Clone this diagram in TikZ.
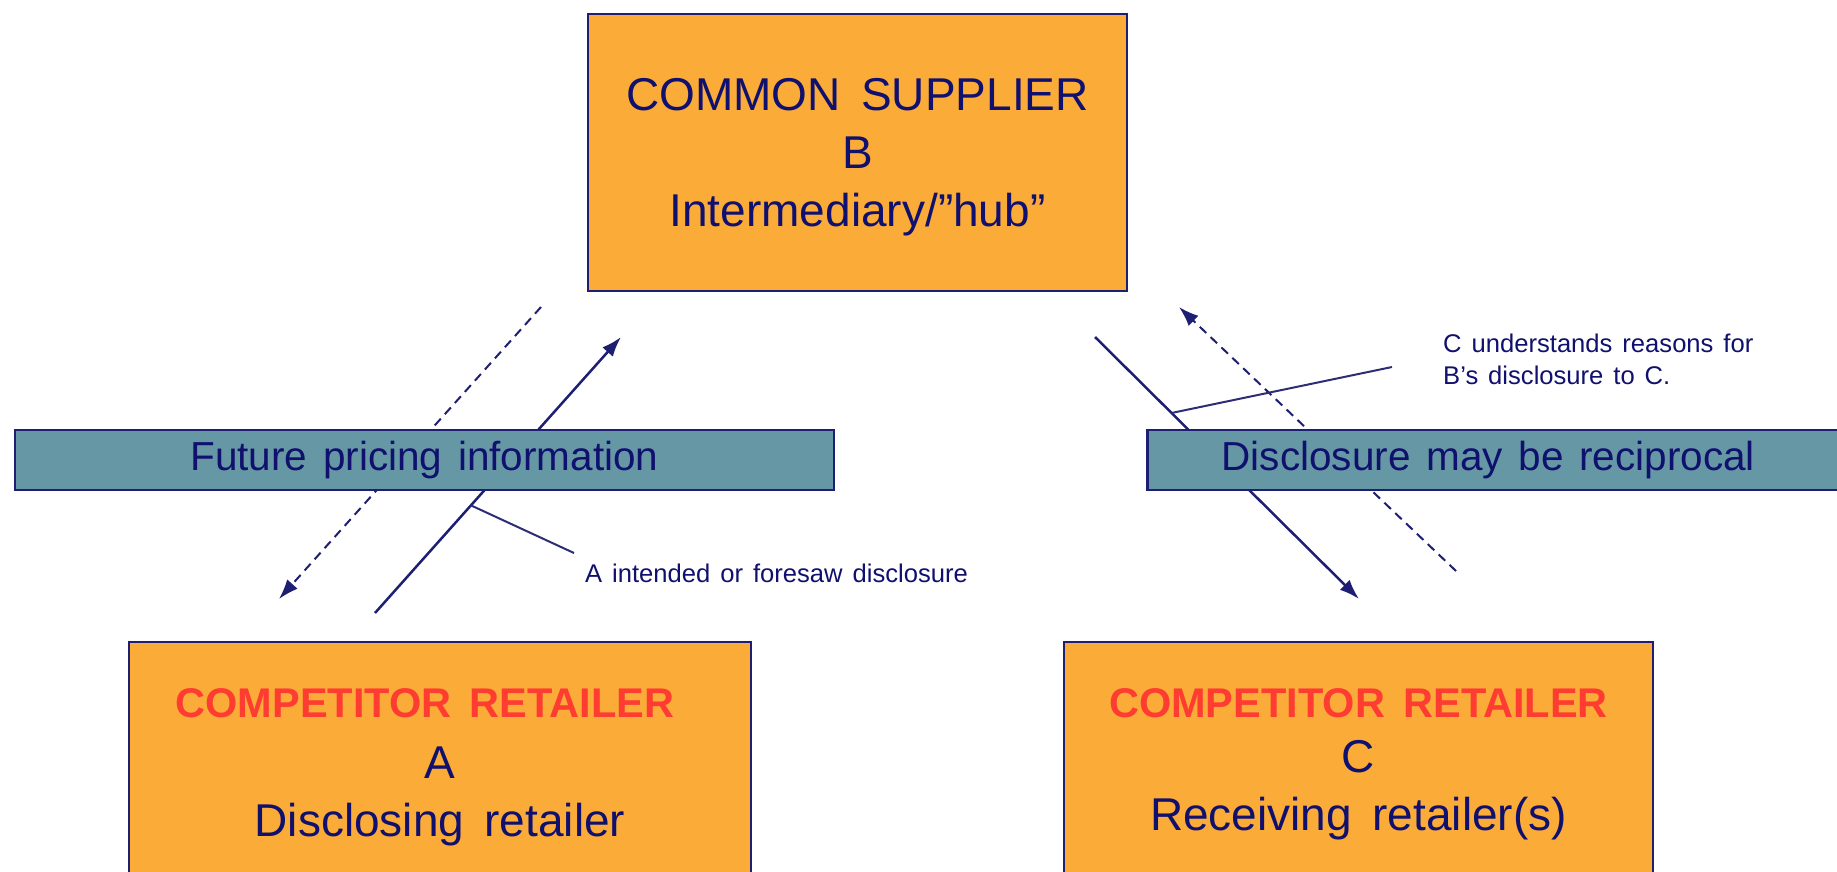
\documentclass[tikz,border=0pt]{standalone}
\usepackage{fontspec}
\setmainfont{Liberation Sans}[WordSpace=1.6]
\newfontfamily\bannerf{Liberation Sans}[WordSpace=1.9]
\newfontfamily\notef{Liberation Sans}[WordSpace=1.4]
\usetikzlibrary{arrows.meta,calc}
\definecolor{boxorange}{RGB}{251,171,56}
\definecolor{navytext}{RGB}{16,16,110}
\definecolor{navyline}{RGB}{30,30,115}
\definecolor{bannerteal}{RGB}{101,151,165}
\definecolor{redtext}{RGB}{255,60,50}
\tikzset{
  partybox/.style={draw=navyline, line width=2pt, fill=boxorange, inner sep=0pt},
  banner/.style={draw=navyline, line width=2.5pt, fill=bannerteal, inner sep=0pt, text=navytext, font=\bannerf\fontsize{40.5}{46}\selectfont},
  bigtxt/.style={text=navytext, font=\fontsize{46}{58}\selectfont, anchor=base, inner sep=0pt},
  redtxt/.style={text=redtext, font=\fontsize{41.5}{46}\selectfont\bfseries, anchor=base, inner sep=0pt},
  flow/.style={draw=navyline, line width=2.5pt, -{Latex[length=20pt,width=14pt]}},
  flowdash/.style={draw=navyline, line width=2pt, dash pattern=on 9pt off 6pt, -{Latex[length=20pt,width=14pt]}},
  leader/.style={draw=navyline!85!gray, line width=2pt},
  note/.style={text=navytext, font=\notef\fontsize{25.6}{32}\selectfont, inner sep=0pt, align=left, anchor=base west}
}
\begin{document}
\begin{tikzpicture}[x=1pt,y=-1pt]
\useasboundingbox (0,0) rectangle (1837,871);
\clip (0,0) rectangle (1837,871);
% connectors (drawn first, banners cover them)
\coordinate (ls) at (375,613);
\coordinate (le) at (621,337);
\coordinate (lds) at (541,307);
\coordinate (lde) at (279,599);
\coordinate (rs) at (1095,337);
\coordinate (re) at (1359,599);
\coordinate (rds) at (1456,571);
\coordinate (rde) at (1179,307);
\coordinate (la) at ($(ls)!0.39!(le)$);
\coordinate (lb) at (574,553);
\coordinate (ra) at ($(rs)!0.29!(re)$);
\coordinate (rb) at (1392,367);
\draw[flow] (ls) -- (le);
\draw[flowdash] (lds) -- (lde);
\draw[flow] (rs) -- (re);
\draw[flowdash] (rds) -- (rde);
\draw[leader] (la) -- (lb);
\draw[leader] (ra) -- (rb);
% boxes
\node[partybox, minimum width=539pt, minimum height=277pt] (B) at (857.5,152.5) {};
\node[bigtxt] (b1) at (857.5,110) {COMMON SUPPLIER};
\node[bigtxt] (b2) at (857.5,168) {B};
\node[bigtxt] (b3) at (857.5,226) {Intermediary/”hub”};
\node[partybox, minimum width=622pt, minimum height=240pt] (A) at (440,762) {};
\node[redtxt] (a1) at (425,717) {COMPETITOR RETAILER};
\node[bigtxt] (a2) at (440,778) {A};
\node[bigtxt] (a3) at (440,836) {Disclosing retailer};
\node[partybox, minimum width=589pt, minimum height=240pt] (C) at (1358.5,762) {};
\node[redtxt] (c1) at (1358.5,717) {COMPETITOR RETAILER};
\node[bigtxt] (c2) at (1358.5,772) {C};
\node[bigtxt] (c3) at (1358.5,830) {Receiving retailer(s)};
% banners
\node[banner, minimum width=819pt, minimum height=60pt] (fp) at (424.5,460) {Future pricing information};
\node[banner, minimum width=700pt, minimum height=60pt, anchor=west] (dr) at (1146,460) {\hspace*{-18pt}Disclosure may be reciprocal};
% notes
\node[note] (na) at (585,582) {A intended or foresaw disclosure};
\node[note] (nc) at (1443,384) {C understands reasons for\\B’s disclosure to C.};
\end{tikzpicture}
\end{document}
